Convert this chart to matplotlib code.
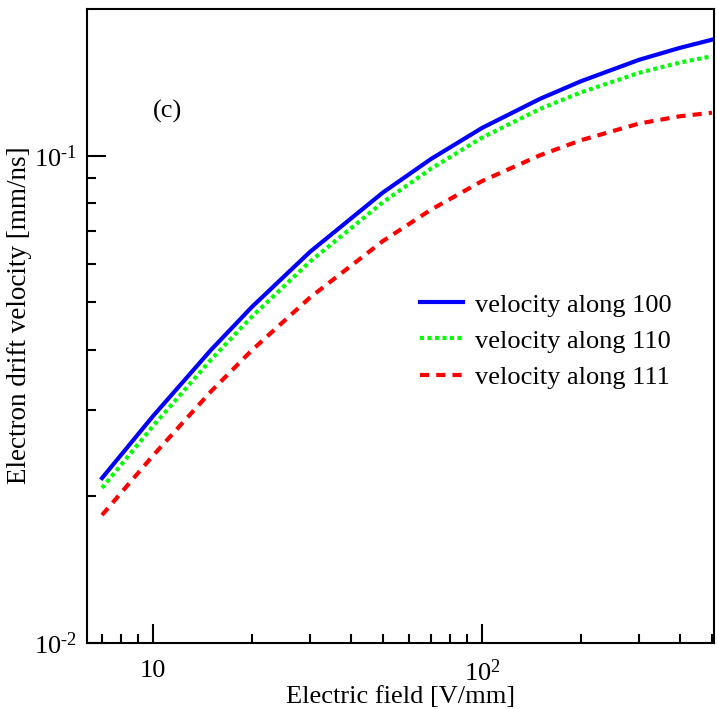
import matplotlib
matplotlib.use("Agg")
import matplotlib.pyplot as plt
from matplotlib.ticker import FixedLocator, FixedFormatter, NullFormatter

plt.rcParams['font.family'] = ['Liberation Serif', 'DejaVu Serif']
plt.rcParams['mathtext.fontset'] = 'custom'
plt.rcParams['mathtext.rm'] = 'Liberation Serif'
plt.rcParams['mathtext.it'] = 'Liberation Serif:italic'

# Elektrisk felt [V/mm]
field = [7, 10, 15, 20, 30, 50, 70, 100, 150, 200, 300, 400, 500]

# Driftshastighet [mm/ns] langs de tre retningene
v100 = [0.0218, 0.02921, 0.03993, 0.04897, 0.06348, 0.08405, 0.09847, 0.1140, 0.1308, 0.1422, 0.1573, 0.1665, 0.1730]
v110 = [0.0208, 0.02787, 0.03813, 0.04677, 0.06062, 0.08027, 0.09404, 0.1089, 0.1247, 0.1349, 0.1479, 0.1553, 0.1600]
v111 = [0.0183, 0.02424, 0.03282, 0.03991, 0.05116, 0.06682, 0.07750, 0.08869, 0.1002, 0.1076, 0.1164, 0.1205, 0.1225]

fs = 19

fig = plt.figure(figsize=(7.17, 7.09), dpi=100)
ax = fig.add_axes([0.1213, 0.0931, 0.8745, 0.8942])

ax.plot(field, v100, color="#0000ff", linestyle="-", linewidth=3.0, label="velocity along 100")
ax.plot(field, v110, color="#00ff00", linestyle=(0, (0.95, 0.85)), linewidth=3.0, label="velocity along 110")
ax.plot(field, v111, color="#ff0000", linestyle=(0, (2.2, 1.7)), linewidth=3.0, label="velocity along 111")

ax.set_xscale("log")
ax.set_yscale("log")
ax.set_xlim(6.3, 507)
ax.set_ylim(0.01, 0.2)

ax.xaxis.set_major_locator(FixedLocator([10, 100]))
ax.xaxis.set_major_formatter(FixedFormatter(["10", r"$10^2$"]))
ax.xaxis.set_minor_locator(FixedLocator([7, 8, 9, 20, 30, 40, 50, 60, 70, 80, 90, 200, 300, 400, 500]))
ax.xaxis.set_minor_formatter(NullFormatter())
ax.yaxis.set_major_locator(FixedLocator([0.01, 0.1]))
ax.yaxis.set_major_formatter(FixedFormatter([r"$10^{\text{-}2}$", r"$10^{\text{-}1}$"]))
ax.yaxis.set_minor_locator(FixedLocator([0.02, 0.03, 0.04, 0.05, 0.06, 0.07, 0.08, 0.09]))
ax.yaxis.set_minor_formatter(NullFormatter())

ax.tick_params(which="both", direction="in", width=1.5, labelsize=fs, top=False, right=False)
ax.tick_params(which="major", length=13.5)
ax.tick_params(which="minor", length=6.5)
ax.tick_params(axis="x", which="major", pad=12)
ax.tick_params(axis="y", which="major", pad=7)
for sp in ax.spines.values():
    sp.set_linewidth(1.5)

ax.set_xlabel("Electric field [V/mm]", fontsize=fs, labelpad=0)
ax.set_ylabel("Electron drift velocity [mm/ns]", fontsize=19.5)
ax.yaxis.set_label_coords(-0.088, 0.517)

ax.text(0.128, 0.839, "(c)", transform=ax.transAxes, fontsize=fs, ha="center", va="center")

ax.legend(loc="upper left", bbox_to_anchor=(0.531, 0.552), frameon=False, fontsize=fs,
          handlelength=1.65, handletextpad=0.42, labelspacing=0.48, borderpad=0, borderaxespad=0)

plt.savefig("out.png", dpi=100)
